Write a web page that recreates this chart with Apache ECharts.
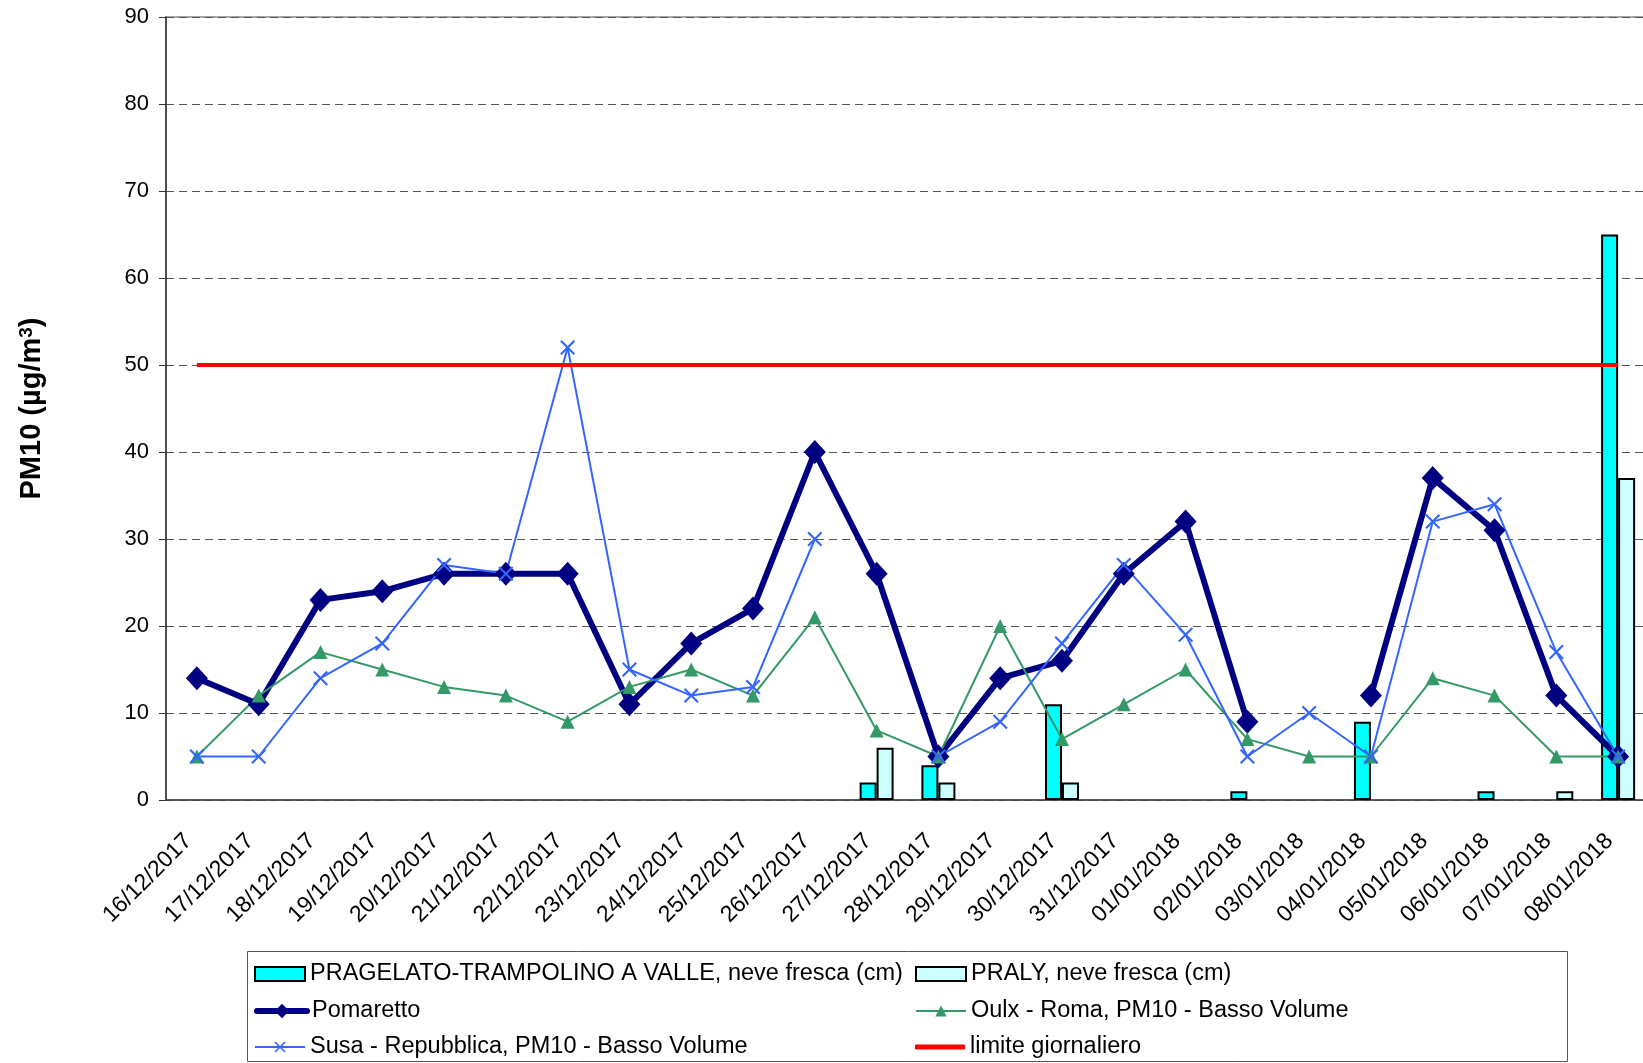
<!DOCTYPE html>
<html>
<head>
<meta charset="utf-8">
<script src="https://cdn.jsdelivr.net/npm/echarts@6/dist/echarts.min.js"></script>
<style>
  html, body { margin: 0; padding: 0; background: #fff; overflow: hidden; }
  #main { width: 1650px; height: 1063px; }
</style>
</head>
<body>
<div id="main"></div>
<script>
var myChart = echarts.init(document.getElementById('main'));

var days = ['16/12/2017', '17/12/2017', '18/12/2017', '19/12/2017', '20/12/2017', '21/12/2017',
    '22/12/2017', '23/12/2017', '24/12/2017', '25/12/2017', '26/12/2017', '27/12/2017',
    '28/12/2017', '29/12/2017', '30/12/2017', '31/12/2017', '01/01/2018', '02/01/2018',
    '03/01/2018', '04/01/2018', '05/01/2018', '06/01/2018', '07/01/2018', '08/01/2018'];

// neve fresca (cm)
var pragelato = [null, null, null, null, null, null, null, null, null, null, null, 2,
    4, null, 11, null, null, 1, null, 9, null, 1, null, 65];
var praly = [null, null, null, null, null, null, null, null, null, null, null, 6,
    2, null, 2, null, null, null, null, null, null, null, 1, 37];

// PM10 (µg/m3)
var pomaretto = [14, 11, 23, 24, 26, 26, 26, 11, 18, 22, 40, 26,
    5, 14, 16, 26, 32, 9, null, 12, 37, 31, 12, 5];
var oulx = [5, 12, 17, 15, 13, 12, 9, 13, 15, 12, 21, 8,
    5, 20, 7, 11, 15, 7, 5, 5, 14, 12, 5, 5];
var susa = [5, 5, 14, 18, 27, 26, 52, 15, 12, 13, 30, null,
    5, 9, 18, 27, 19, 5, 10, 5, 32, 34, 17, 5];
var limite = [50, 50, 50, 50, 50, 50, 50, 50, 50, 50, 50, 50,
    50, 50, 50, 50, 50, 50, 50, 50, 50, 50, 50, 50];

var names = [
    'PRAGELATO-TRAMPOLINO A VALLE, neve fresca (cm)',
    'PRALY, neve fresca (cm)',
    'Pomaretto',
    'Oulx - Roma, PM10 - Basso Volume',
    'Susa - Repubblica, PM10 - Basso Volume',
    'limite giornaliero'
];

var font = 'Liberation Sans, Arial, sans-serif';
var xMark = 'path://M0,1L1,0L5,4L9,0L10,1L6,5L10,9L9,10L5,6L1,10L0,9L4,5Z';

var legendPos = [[254, 962], [915, 962], [254, 999], [915, 999], [254, 1035], [915, 1035]];
var legends = names.map(function (n, i) {
    var item = { name: n };
    if (i < 2) item.icon = 'rect';
    if (i === 5) item.icon = 'roundRect';
    return {
        data: [item],
        left: legendPos[i][0],
        top: legendPos[i][1],
        padding: 0,
        itemWidth: 50,
        itemHeight: i === 5 ? 5 : (i === 2 ? 18 : 14),
        selectedMode: false,
        lineStyle: i === 2 ? { width: 6, cap: 'round' } : {},
        textStyle: { fontSize: 23.5, fontFamily: font, color: '#000' }
    };
});

option = {
    backgroundColor: '#fff',
    animation: false,
    textStyle: { fontFamily: font },
    legend: legends,
    graphic: [{
        type: 'rect',
        shape: { x: 247.5, y: 951.5, width: 1320, height: 110 },
        style: { fill: null, stroke: '#555', lineWidth: 1 }
    }],
    grid: {
        left: 166,
        top: 17,
        right: 1,
        bottom: 263,
        show: true,
        borderColor: '#888',
        borderWidth: 1.5
    },
    xAxis: {
        type: 'category',
        data: days,
        boundaryGap: true,
        axisLine: { lineStyle: { color: '#444', width: 1.5 } },
        axisTick: { length: 7, lineStyle: { color: '#444' } },
        axisLabel: {
            interval: 0,
            rotate: 45,
            margin: 29,
            padding: [0, 12, 0, 0],
            fontSize: 23,
            color: '#000',
            fontFamily: font
        }
    },
    yAxis: {
        type: 'value',
        min: 0,
        max: 90,
        interval: 10,
        name: 'PM10 (µg/m{sup|3})',
        nameLocation: 'middle',
        nameGap: 120,
        nameTextStyle: {
            fontSize: 29,
            fontWeight: 'bold',
            color: '#000',
            fontFamily: font,
            rich: {
                sup: { fontSize: 19, fontWeight: 'bold', verticalAlign: 'top', color: '#000', fontFamily: font }
            }
        },
        axisLine: { show: true, lineStyle: { color: '#333', width: 1.5 } },
        axisTick: { show: true, length: 7, lineStyle: { color: '#333' } },
        axisLabel: { fontSize: 22, color: '#000', margin: 17, fontFamily: font },
        splitLine: { lineStyle: { color: '#555', type: [8, 5], width: 1 } }
    },
    series: [
        {
            name: names[0],
            type: 'bar',
            data: pragelato,
            barWidth: 17,
            barGap: '0%',
            itemStyle: { color: '#00FFFF', borderColor: '#000', borderWidth: 2 }
        },
        {
            name: names[1],
            type: 'bar',
            data: praly,
            barWidth: 17,
            barGap: '0%',
            itemStyle: { color: '#CCFFFF', borderColor: '#000', borderWidth: 2 }
        },
        {
            name: names[2],
            type: 'line',
            data: pomaretto,
            connectNulls: false,
            symbol: 'diamond',
            symbolSize: [22, 24],
            lineStyle: { color: '#000080', width: 6 },
            itemStyle: { color: '#000080' }
        },
        {
            name: names[3],
            type: 'line',
            data: oulx,
            symbol: 'triangle',
            symbolSize: 14,
            lineStyle: { color: '#339966', width: 2 },
            itemStyle: { color: '#339966' }
        },
        {
            name: names[4],
            type: 'line',
            data: susa,
            connectNulls: false,
            symbol: xMark,
            symbolSize: 15,
            lineStyle: { color: '#3366FF', width: 2 },
            itemStyle: { color: '#3366FF' }
        },
        {
            name: names[5],
            type: 'line',
            data: limite,
            symbol: 'none',
            lineStyle: { color: '#FF0000', width: 4 },
            itemStyle: { color: '#FF0000' }
        }
    ]
};

myChart.setOption(option);
</script>
</body>
</html>
